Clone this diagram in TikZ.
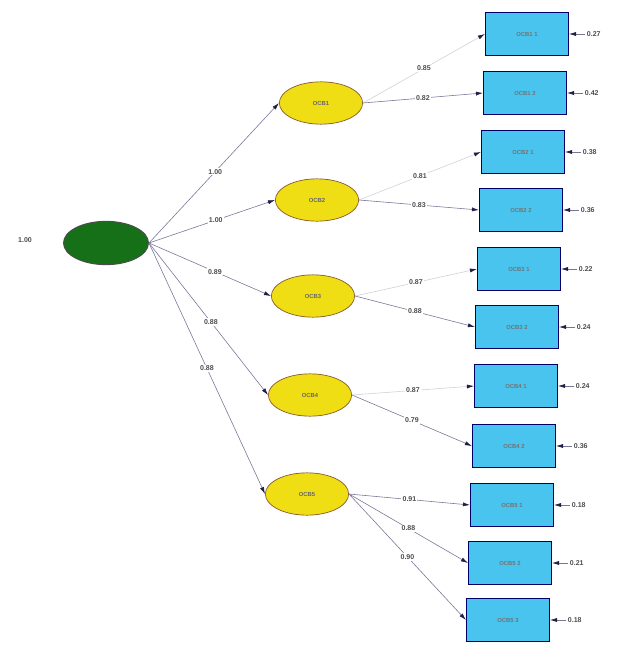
\documentclass[tikz,border=0pt]{standalone}
\usepackage{fontspec}
\setmainfont{Liberation Sans}
\usetikzlibrary{arrows.meta,shapes.geometric}

\definecolor{latgreen}{RGB}{22,112,24}
\definecolor{latyellow}{RGB}{240,222,20}
\definecolor{obsblue}{RGB}{72,196,238}
\definecolor{pathgray}{RGB}{120,118,150}
\definecolor{tipnavy}{RGB}{30,30,70}

\tikzset{
  second/.style={ellipse,draw=black!70,fill=latgreen,line width=0.8pt,
    minimum width=2.55cm,minimum height=1.3cm,inner sep=0pt},
  first/.style={ellipse,draw=brown!70!black,fill=latyellow,line width=0.6pt,
    minimum width=2.5cm,minimum height=1.27cm,inner sep=0pt,
    font=\fontsize{5}{6}\selectfont\bfseries,text=black!60},
  obs/.style={rectangle,draw=blue!40!black,fill=obsblue,line width=0.7pt,
    minimum width=2.5cm,minimum height=1.28cm,inner sep=0pt,
    font=\fontsize{5}{6}\selectfont\bfseries,text=black!55},
  val/.style={font=\fontsize{6}{7}\selectfont\bfseries,text=black!70,
    inner sep=1pt},
  conn/.style={draw=pathgray,line width=0.5pt,
    -{Latex[length=6pt,width=3.5pt,color=tipnavy]}},
  faint/.style={conn,draw=pathgray!35}
}

\begin{document}
\begin{tikzpicture}[x=0.03cm,y=-0.03cm]
  \useasboundingbox (0,0) rectangle (620,646);

  \node[second] (ocb) at (106,243) {};
  \node[val] (v0) at (25,240) {1.00};

  \node[first] (f1) at (321,103) {OCB1};
  \node[first] (f2) at (317,200) {OCB2};
  \node[first] (f3) at (313,296) {OCB3};
  \node[first] (f4) at (310,395) {OCB4};
  \node[first] (f5) at (307,494) {OCB5};

  % indicators and their error terms
  \foreach \n/\x/\y/\lab/\err in {
      1/527/34/OCB1 1/0.27, 2/525/93/OCB1 2/0.42,
      3/523/152/OCB2 1/0.38, 4/521/210/OCB2 2/0.36,
      5/519/269/OCB3 1/0.22, 6/517/327/OCB3 2/0.24,
      7/516/386/OCB4 1/0.24, 8/514/446/OCB4 2/0.36,
      9/512/505/OCB5 1/0.18, 10/510/563/OCB5 2/0.21,
      11/508/620/OCB5 3/0.18} {
    \node[obs] (b\n) at (\x,\y) {\lab};
    \node[val,anchor=west] (e\n) at ([xshift=14]b\n.east) {\err};
    \draw[conn] (e\n) -- (b\n);
  }

  \draw[conn] (ocb.east) -- (f1.west) node[val,pos=0.51,fill=white] {1.00};
  \draw[conn] (ocb.east) -- (f2.west) node[val,pos=0.53,fill=white] {1.00};
  \draw[conn] (ocb.east) -- (f3.west) node[val,pos=0.54,fill=white] {0.89};
  \draw[conn] (ocb.east) -- (f4.west) node[val,pos=0.52,fill=white] {0.88};
  \draw[conn] (ocb.east) -- (f5.west) node[val,pos=0.5,fill=white] {0.88};

  \draw[faint] (f1.east) -- (b1.west) node[val,pos=0.5,fill=white] {0.85};
  \draw[conn] (f1.east) -- (b2.west) node[val,pos=0.5,fill=white] {0.82};
  \draw[faint] (f2.east) -- (b3.west) node[val,pos=0.5,fill=white] {0.81};
  \draw[conn] (f2.east) -- (b4.west) node[val,pos=0.5,fill=white] {0.83};
  \draw[faint] (f3.east) -- (b5.west) node[val,pos=0.5,fill=white] {0.87};
  \draw[conn] (f3.east) -- (b6.west) node[val,pos=0.5,fill=white] {0.88};
  \draw[faint] (f4.east) -- (b7.west) node[val,pos=0.5,fill=white] {0.87};
  \draw[conn] (f4.east) -- (b8.west) node[val,pos=0.5,fill=white] {0.79};
  \draw[conn] (f5.east) -- (b9.west) node[val,pos=0.5,fill=white] {0.91};
  \draw[conn] (f5.east) -- (b10.west) node[val,pos=0.5,fill=white] {0.88};
  \draw[conn] (f5.east) -- (b11.west) node[val,pos=0.5,fill=white] {0.90};

\end{tikzpicture}
\end{document}
